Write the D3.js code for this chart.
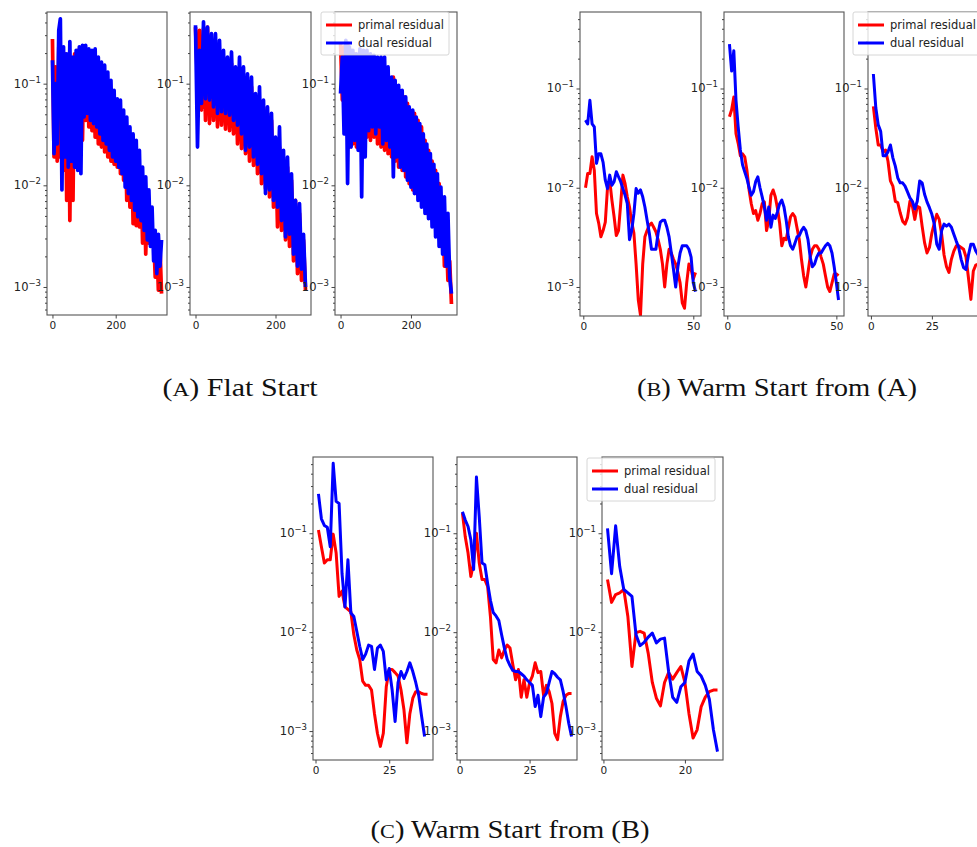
<!DOCTYPE html>
<html lang="en">
<head>
<meta charset="UTF-8">
<title>Primal / dual residuals</title>
<script src="https://cdn.jsdelivr.net/npm/d3@7"></script>
<style>
    body { margin: 0; background: #fff; }
    svg text { font-family: "DejaVu Sans", sans-serif; fill: #222; }
    .tick text { font-size: 10.5px; fill: #222; }
    .tick line { stroke: #444; }
    .caption { font-family: "Liberation Serif", serif; font-size: 25px; fill: #111; }
    .leg-text { font-size: 11.5px; }
</style>
</head>
<body>
<svg id="fig" width="977" height="847"></svg>
<script>

// ---------- data ----------

// (A) flat start: sampled every 5 iterations, starting at 0
var stepA = 5;
var flatPrimal1 = [0.275,0.019,0.146,0.0173,0.23,0.019,0.17,0.014,0.197,0.0071,
    0.183,0.0045,0.17,0.0071,0.197,0.0205,0.213,0.019,0.22,0.0277,
    0.213,0.0435,0.213,0.0375,0.197,0.0345,0.19,0.0298,0.17,0.0255,
    0.152,0.0238,0.14,0.0213,0.125,0.019,0.104,0.0173,0.083,0.0161,
    0.069,0.0151,0.064,0.013,0.051,0.0112,0.0435,0.0071,0.0345,0.0061,
    0.0298,0.0042,0.0255,0.004,0.0205,0.0039,0.014,0.0027,0.0112,0.0021,
    0.0083,0.0027,0.0053,0.0029,0.0033,0.00125,0.0027,0.00093,0.0025,0.00086];
var flatDual1 = [0.17,0.0205,0.1,0.0255,0.335,0.435,0.009,0.23,0.019,0.197,
    0.0151,0.26,0.0173,0.183,0.0151,0.213,0.014,0.23,0.013,0.238,
    0.047,0.238,0.051,0.22,0.0435,0.213,0.0405,0.22,0.0375,0.183,
    0.032,0.163,0.0277,0.152,0.0255,0.13,0.0221,0.108,0.019,0.086,
    0.0173,0.071,0.0151,0.069,0.013,0.055,0.0096,0.047,0.0083,0.0375,
    0.0071,0.032,0.0057,0.0277,0.0049,0.0221,0.0045,0.0151,0.0036,0.0121,
    0.0029,0.009,0.0025,0.0061,0.0018,0.0036,0.00135,0.0033,0.0016,0.0029];
var flatPrimal2 = [0.36,0.1,0.335,0.055,0.35,0.0435,0.36,0.0405,0.213,0.0435,
    0.23,0.0375,0.213,0.039,0.183,0.0357,0.17,0.0345,0.158,0.032,
    0.136,0.0255,0.125,0.023,0.116,0.0205,0.1,0.0173,0.093,0.0157,
    0.074,0.013,0.069,0.0104,0.059,0.0093,0.051,0.0077,0.0435,0.0061,
    0.0277,0.0039,0.0238,0.0036,0.0173,0.0029,0.0151,0.0025,0.0112,0.0018,
    0.0071,0.00135,0.0053,0.00116,0.0029,0.00093];
var flatDual2 = [0.375,0.0238,0.213,0.064,0.405,0.071,0.36,0.069,0.31,0.059,
    0.31,0.051,0.267,0.053,0.213,0.051,0.183,0.049,0.205,0.0435,
    0.146,0.039,0.183,0.032,0.146,0.0221,0.125,0.0238,0.116,0.019,
    0.08,0.0161,0.093,0.013,0.069,0.0083,0.059,0.009,0.051,0.0071,
    0.0298,0.0061,0.0375,0.0045,0.0221,0.0031,0.019,0.0033,0.013,0.0021,
    0.0071,0.0016,0.0066,0.0015,0.0033,0.001];
var flatPrimal3 = [0.25,0.069,0.23,0.0375,0.25,0.0238,0.213,0.0255,0.197,0.0238,
    0.183,0.0221,0.17,0.0277,0.176,0.0298,0.17,0.0277,0.158,0.0298,
    0.146,0.0255,0.136,0.0238,0.125,0.0221,0.116,0.0205,0.108,0.019,
    0.116,0.0173,0.093,0.0151,0.08,0.014,0.074,0.0121,0.064,0.0104,
    0.051,0.009,0.051,0.0083,0.0435,0.0077,0.0375,0.0071,0.0277,0.0053,
    0.0221,0.0049,0.0173,0.0047,0.014,0.0039,0.0104,0.0025,0.0071,0.0016,
    0.0039,0.00116,0.0018,0.00068];
var flatDual3 = [0.08,0.183,0.032,0.267,0.0104,0.23,0.0238,0.213,0.0277,0.197,
    0.0221,0.22,0.0077,0.213,0.019,0.213,0.0345,0.197,0.0375,0.19,
    0.032,0.183,0.0375,0.183,0.0255,0.183,0.0277,0.146,0.0238,0.116,
    0.0121,0.108,0.019,0.096,0.0151,0.086,0.014,0.074,0.0112,0.059,
    0.0096,0.055,0.0083,0.047,0.0071,0.0405,0.0061,0.032,0.0053,0.0255,
    0.0047,0.0205,0.0039,0.0161,0.0031,0.013,0.0025,0.0096,0.0021,0.0077,
    0.0016,0.0053,0.00125,0.00086];

// (B) warm start from (A): one value per iteration, starting at 1
var warmAPrimal1 = [1.0e-2,1.39e-2,1.39e-2,2.05e-2,1.5e-2,5.5e-3,4.4e-3,3.2e-3,3.7e-3,4.5e-3,
    1.0e-2,1.19e-2,7.5e-3,5.1e-3,3.3e-3,3.7e-3,6.9e-3,1.34e-2,1.1e-2,8.1e-3,
    6.4e-3,4.5e-3,3.5e-3,1.7e-3,7.4e-4,5.2e-4,1.7e-3,3.2e-3,3.7e-3,4.2e-3,
    4.4e-3,4.0e-3,3.6e-3,3.0e-3,2.4e-3,1.7e-3,1.0e-3,1.7e-3,2.4e-3,2.2e-3,
    1.9e-3,1.7e-3,1.4e-3,1.1e-3,6.9e-4,6.1e-4,1.1e-3,1.7e-3,1.5e-3,1.2e-3,1.4e-3];
var warmADual1 = [4.8e-2,4.4e-2,7.6e-2,4.4e-2,4.1e-2,1.76e-2,2.2e-2,2.2e-2,1.8e-2,1.19e-2,
    9.8e-3,1.34e-2,1.06e-2,1.15e-2,1.45e-2,1.29e-2,1.15e-2,9.8e-3,8.4e-3,6.9e-3,
    3.0e-3,3.7e-3,5.5e-3,9.8e-3,8.8e-3,9.5e-3,8.1e-3,6.4e-3,4.7e-3,3.5e-3,
    2.4e-3,2.4e-3,2.4e-3,3.5e-3,4.5e-3,4.7e-3,4.7e-3,4.0e-3,3.2e-3,2.2e-3,
    1.5e-3,1.0e-3,1.6e-3,2.2e-3,2.6e-3,2.6e-3,2.6e-3,2.4e-3,2.0e-3,1.1e-3,9.0e-4];
var warmAPrimal2 = [5.2e-2,6.1e-2,8.2e-2,3.5e-2,2.8e-2,2.1e-2,2.2e-2,2.05e-2,1.5e-2,9.5e-3,
    6.9e-3,5.5e-3,5.9e-3,4.7e-3,5.5e-3,6.9e-3,7.2e-3,3.7e-3,4.7e-3,8.4e-3,
    9.5e-3,8.1e-3,6.2e-3,4.4e-3,2.6e-3,3.1e-3,3.0e-3,3.9e-3,5.1e-3,5.5e-3,
    5.1e-3,3.9e-3,3.0e-3,1.9e-3,1.3e-3,1.0e-3,1.4e-3,2.0e-3,2.4e-3,2.6e-3,
    2.6e-3,2.4e-3,2.0e-3,1.7e-3,1.3e-3,1.0e-3,9.0e-4,1.1e-3,1.35e-3,1.35e-3,1.3e-3];
var warmADual2 = [2.8e-1,1.5e-1,2.4e-1,7.6e-2,4.1e-2,2.4e-2,1.7e-2,1.45e-2,1.24e-2,1.0e-2,
    8.4e-3,9.1e-3,1.15e-2,1.29e-2,1.0e-2,8.1e-3,6.4e-3,4.7e-3,6.4e-3,4.0e-3,
    5.3e-3,4.9e-3,5.7e-3,6.9e-3,7.5e-3,6.4e-3,4.7e-3,3.2e-3,2.6e-3,2.4e-3,
    2.75e-3,3.2e-3,3.3e-3,3.7e-3,4.0e-3,3.7e-3,3.0e-3,2.0e-3,1.6e-3,1.7e-3,
    2.0e-3,2.2e-3,2.2e-3,2.4e-3,2.6e-3,2.75e-3,2.6e-3,2.2e-3,1.6e-3,1.1e-3,7.4e-4];
var warmAPrimal3 = [6.6e-2,4.0e-2,2.7e-2,2.7e-2,2.3e-2,2.4e-2,1.85e-2,1.17e-2,1.04e-2,7.3e-3,
    7.1e-3,5.6e-3,4.6e-3,4.3e-3,5.0e-3,7.3e-3,6.5e-3,4.8e-3,6.5e-3,6.3e-3,
    4.1e-3,2.8e-3,2.2e-3,2.5e-3,3.5e-3,4.4e-3,5.4e-3,4.8e-3,3.4e-3,2.1e-3,
    1.6e-3,1.4e-3,1.9e-3,2.3e-3,2.6e-3,2.6e-3,2.5e-3,2.4e-3,2.0e-3,1.24e-3,
    7.5e-4,1.45e-3,1.66e-3,1.7e-3,1.7e-3];
var warmADual3 = [1.4e-1,6.4e-2,4.3e-2,3.7e-2,2.1e-2,2.1e-2,2.3e-2,2.7e-2,2.0e-2,1.65e-2,
    1.26e-2,1.12e-2,1.12e-2,1.04e-2,9.1e-3,7.9e-3,7.3e-3,6.1e-3,7.3e-3,1.17e-2,
    1.12e-2,8.6e-3,7.2e-3,6.3e-3,5.4e-3,4.3e-3,2.7e-3,2.4e-3,3.7e-3,4.3e-3,
    4.1e-3,4.3e-3,4.0e-3,3.4e-3,2.9e-3,2.5e-3,1.9e-3,1.57e-3,1.5e-3,2.1e-3,
    2.7e-3,2.7e-3,2.3e-3,2.1e-3,2.0e-3];

// (C) warm start from (B)
var warmBPrimal1 = [1.08e-1,7.3e-2,5.0e-2,5.4e-2,5.4e-2,9.8e-2,6.3e-2,2.3e-2,2.6e-2,1.8e-2,
    1.7e-2,1.6e-2,9.4e-3,6.6e-3,5.3e-3,3.2e-3,2.9e-3,2.9e-3,2.6e-3,1.5e-3,
    9.5e-4,7.0e-4,9.5e-4,2.8e-3,4.2e-3,4.2e-3,3.9e-3,3.6e-3,2.6e-3,1.64e-3,
    7.6e-4,1.5e-3,2.15e-3,2.5e-3,2.5e-3,2.4e-3,2.35e-3,2.35e-3];
var warmBDual1 = [2.5e-1,1.4e-1,1.2e-1,1.15e-1,7.3e-2,5.1e-1,2.1e-1,2.0e-1,3.9e-2,1.8e-2,
    5.4e-2,1.56e-2,1.44e-2,1.02e-2,7.2e-3,5.3e-3,6.0e-3,7.4e-3,7.2e-3,4.2e-3,
    6.9e-3,7.4e-3,6.4e-3,3.3e-3,4.3e-3,2.6e-3,1.25e-3,3.1e-3,4.0e-3,3.4e-3,
    4.0e-3,4.9e-3,4.0e-3,3.1e-3,2.3e-3,1.4e-3,8.8e-4];
var warmBPrimal2 = [1.6e-1,9.2e-2,6.3e-2,3.65e-2,5.0e-2,1.0e-1,5.0e-2,3.4e-2,3.4e-2,2.9e-2,
    1.44e-2,5.3e-3,4.9e-3,6.6e-3,5.5e-3,6.6e-3,7.4e-3,6.9e-3,4.7e-3,3.3e-3,
    4.2e-3,2.2e-3,3.3e-3,2.2e-3,3.1e-3,3.6e-3,4.9e-3,3.9e-3,4.0e-3,2.3e-3,
    2.9e-3,2.5e-3,1.9e-3,9.5e-4,8.2e-4,1.4e-3,2.0e-3,2.3e-3,2.4e-3,2.4e-3];
var warmBDual2 = [1.65e-1,1.36e-1,1.17e-1,8.6e-2,4.3e-2,3.7e-1,1.47e-1,5.0e-2,4.8e-2,3.1e-2,
    2.1e-2,1.58e-2,1.46e-2,1.31e-2,9.4e-3,6.9e-3,5.3e-3,4.6e-3,4.1e-3,4.0e-3,
    4.0e-3,3.8e-3,3.6e-3,3.3e-3,3.1e-3,2.9e-3,1.77e-3,2.3e-3,1.4e-3,2.2e-3,
    2.4e-3,3.1e-3,4.0e-3,3.8e-3,3.5e-3,3.3e-3,2.5e-3,1.77e-3,1.2e-3,8.8e-4];
var warmBPrimal3 = [3.4e-2,2.0e-2,2.4e-2,2.5e-2,2.7e-2,1.44e-2,4.5e-3,9.9e-3,1.02e-2,9.8e-3,
    6.1e-3,3.1e-3,2.15e-3,1.8e-3,3.1e-3,3.9e-3,3.35e-3,3.9e-3,4.5e-3,3.1e-3,
    1.5e-3,8.5e-4,1.03e-3,1.77e-3,2.2e-3,2.5e-3,2.6e-3,2.6e-3];
var warmBDual3 = [1.12e-1,3.9e-2,1.19e-1,4.6e-2,2.7e-2,2.5e-2,2.3e-2,9.4e-3,7.3e-3,7.9e-3,
    8.9e-3,9.8e-3,7.8e-3,8.5e-3,8.7e-3,4.0e-3,2.2e-3,1.95e-3,2.8e-3,3.1e-3,
    5.1e-3,6.0e-3,4.0e-3,3.6e-3,2.9e-3,2.1e-3,1.03e-3,6.2e-4];

// axis limits and labels
var yLimA = [5.3e-4, 0.507];
var yLimB = [5.1e-4, 0.59];
var yLimC = [5.1e-4, 0.59];
var yMajor = [1e-3, 1e-2, 1e-1];
var legendLabels = ["primal residual", "dual residual"];
var captions = ["A", " Flat Start", "B", " Warm Start from (A)", "C", " Warm Start from (B)"];

// ---------- layout ----------
var svg = d3.select("#fig");
var lineColors = ["red", "blue"];

// box = [left, top, right, bottom] of each axes frame
// lw: the flat-start runs are sampled sparser, so their stroke is a bit wider to keep the band solid
var panels = [
    {p: flatPrimal1, d: flatDual1, step: stepA, first: 0, box: [47, 12, 167, 315], yLim: yLimA, xt: [0, 200], lw: 3.7},
    {p: flatPrimal2, d: flatDual2, step: stepA, first: 0, box: [190, 12, 311, 315], yLim: yLimA, xt: [0, 200], lw: 3.7},
    {p: flatPrimal3, d: flatDual3, step: stepA, first: 0, box: [335, 12, 457, 315], yLim: yLimA, xt: [0, 200], lw: 3.7},
    {p: warmAPrimal1, d: warmADual1, step: 1, first: 1, box: [580, 12, 701, 316], yLim: yLimB, xt: [0, 50], lw: 3},
    {p: warmAPrimal2, d: warmADual2, step: 1, first: 1, box: [724, 12, 844, 316], yLim: yLimB, xt: [0, 50], lw: 3},
    {p: warmAPrimal3, d: warmADual3, step: 1, first: 1, box: [868, 12, 986, 316], yLim: yLimB, xt: [0, 25], lw: 3},
    {p: warmBPrimal1, d: warmBDual1, step: 1, first: 1, box: [313, 457, 433, 760], yLim: yLimC, xt: [0, 25], lw: 3},
    {p: warmBPrimal2, d: warmBDual2, step: 1, first: 1, box: [457, 457, 577, 760], yLim: yLimC, xt: [0, 25], lw: 3},
    {p: warmBPrimal3, d: warmBDual3, step: 1, first: 1, box: [602, 457, 723, 760], yLim: yLimC, xt: [0, 20], lw: 3}
];

function drawPanel(cfg, k) {
    var b = cfg.box;
    var n = Math.max(cfg.p.length, cfg.d.length);
    var x0 = cfg.first, x1 = cfg.first + (n - 1) * cfg.step;
    var pad = 0.05 * (x1 - x0);
    var x = d3.scaleLinear().domain([x0 - pad, x1 + pad]).range([b[0], b[2]]);
    var y = d3.scaleLog().domain(cfg.yLim).range([b[3], b[1]]);

    var g = svg.append("g");

    g.append("clipPath").attr("id", "clip" + k)
        .append("rect")
        .attr("x", b[0]).attr("y", b[1])
        .attr("width", b[2] - b[0]).attr("height", b[3] - b[1]);

    var line = d3.line()
        .x(function(v, i) { return x(cfg.first + i * cfg.step); })
        .y(function(v) { return y(v); });

    [cfg.p, cfg.d].forEach(function(series, j) {
        g.append("path")
            .datum(series)
            .attr("clip-path", "url(#clip" + k + ")")
            .attr("fill", "none")
            .attr("stroke", lineColors[j])
            .attr("stroke-width", cfg.lw)
            .attr("stroke-linejoin", "round")
            .attr("d", line);
    });

    // frame
    g.append("rect")
        .attr("x", b[0]).attr("y", b[1])
        .attr("width", b[2] - b[0]).attr("height", b[3] - b[1])
        .attr("fill", "none").attr("stroke", "#555").attr("stroke-width", 1.1);

    // x axis
    var xa = g.append("g")
        .attr("transform", "translate(0," + b[3] + ")")
        .call(d3.axisBottom(x).tickValues(cfg.xt).tickSize(3.5).tickPadding(3));
    xa.select(".domain").remove();

    // y axis, minor ticks
    var minor = [];
    [-4, -3, -2, -1].forEach(function(e) {
        for (var m = 2; m <= 9; m++) {
            var v = m * Math.pow(10, e);
            if (v >= cfg.yLim[0] && v <= cfg.yLim[1]) minor.push(v);
        }
    });
    var ym = g.append("g")
        .attr("transform", "translate(" + b[0] + ",0)")
        .call(d3.axisLeft(y).tickValues(minor).tickSize(2).tickFormat(""));
    ym.select(".domain").remove();

    var ya = g.append("g")
        .attr("transform", "translate(" + b[0] + ",0)")
        .call(d3.axisLeft(y).tickValues(yMajor).tickSize(3.5).tickFormat(""));
    ya.select(".domain").remove();

    yMajor.forEach(function(v) {
        var t = g.append("text")
            .attr("x", b[0] - 6)
            .attr("y", y(v) + 4)
            .attr("text-anchor", "end")
            .attr("font-size", "11.5px")
            .attr("fill", "#222");
        t.append("tspan").text("10");
        t.append("tspan")
            .attr("dy", -5)
            .attr("font-size", "8.5px")
            .text("\u2212" + Math.round(-Math.log10(v)));
    });
}

function drawLegend(rightEdge, top) {
    var w = 128, h = 43;
    var left = rightEdge - w;
    var g = svg.append("g");
    g.append("rect")
        .attr("x", left).attr("y", top)
        .attr("width", w).attr("height", h)
        .attr("rx", 2)
        .attr("fill", "#fff").attr("fill-opacity", 0.8)
        .attr("stroke", "#ccc").attr("stroke-width", 0.8);
    legendLabels.forEach(function(lbl, i) {
        var yy = top + 13 + i * 18;
        g.append("line")
            .attr("x1", left + 5).attr("x2", left + 31)
            .attr("y1", yy).attr("y2", yy)
            .attr("stroke", lineColors[i]).attr("stroke-width", 3);
        g.append("text")
            .attr("class", "leg-text")
            .attr("x", left + 37).attr("y", yy + 4)
            .text(lbl);
    });
}

panels.forEach(drawPanel);

drawLegend(449, 12);
drawLegend(981, 12);
drawLegend(715, 458);

// sub-figure captions: [centre x, baseline y, target width]
var capPos = [[240, 396, 155], [777, 396, 280], [510, 838, 279]];
capPos.forEach(function(pos, i) {
    var t = svg.append("text")
        .attr("class", "caption")
        .attr("x", pos[0] - pos[2] / 2).attr("y", pos[1])
        .attr("textLength", pos[2])
        .attr("lengthAdjust", "spacingAndGlyphs");
    t.append("tspan").text("(");
    t.append("tspan").attr("font-size", "19.5px").text(captions[2 * i]);
    t.append("tspan").text(")" + captions[2 * i + 1]);
});

</script>
</body>
</html>
